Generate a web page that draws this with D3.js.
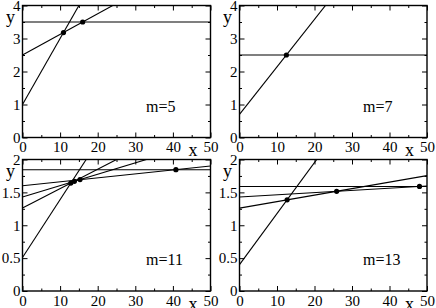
<!DOCTYPE html>
<html>
<head>
<meta charset="utf-8">
<script src="https://cdn.jsdelivr.net/npm/d3@7"></script>
<style>
html,body{margin:0;padding:0;background:#fff;}
svg{display:block;}
</style>
</head>
<body>
<svg id="chart" width="436" height="308"></svg>
<script>
// ---- data ----
const panelLabels = ["m=5", "m=7", "m=11", "m=13"];
const xTickValues = [0, 10, 20, 30, 40, 50];
const xMinorValues = [5, 15, 25, 35, 45];
const yTicksTall = [0, 1, 2, 3, 4];
const yMinorTall = [0.5, 1.5, 2.5, 3.5];
const yTicksShort = [0, 0.5, 1, 1.5, 2];
const yMinorShort = [0.25, 0.75, 1.25, 1.75];

// lines: y = intercept + slope * x
const m5Intercepts = [3.5, 2.5, 1.0];
const m5Slopes = [0, 0.0625, 0.2];
const m5DotX = [10.9, 16.0];
const m5DotY = [3.18, 3.5];

const m7Intercepts = [2.5, 0.7];
const m7Slopes = [0, 0.144];
const m7DotX = [12.5];
const m7DotY = [2.5];

const m11Intercepts = [1.845, 1.60, 1.43, 1.262, 0.51];
const m11Slopes = [0, 0.006, 0.0173, 0.0295, 0.088];
const m11DotX = [12.85, 13.8, 15.3, 40.8];
const m11DotY = [1.641, 1.668, 1.695, 1.845];

const m13Intercepts = [1.59, 1.43, 1.26, 0.40];
const m13Slopes = [0, 0.00333, 0.0099, 0.0777];
const m13DotX = [12.7, 25.9, 48.0];
const m13DotY = [1.386, 1.516, 1.59];

// ---- layout ----
const panels = [
  {label: panelLabels[0], left: 22.5, right: 210.5, top: 5.5, bottom: 137.5, yMax: 4, yT: yTicksTall, yM: yMinorTall, b: m5Intercepts, s: m5Slopes, dx: m5DotX, dy: m5DotY},
  {label: panelLabels[1], left: 239.5, right: 427, top: 5.5, bottom: 137.5, yMax: 4, yT: yTicksTall, yM: yMinorTall, b: m7Intercepts, s: m7Slopes, dx: m7DotX, dy: m7DotY},
  {label: panelLabels[2], left: 22.5, right: 210.5, top: 159.5, bottom: 291, yMax: 2, yT: yTicksShort, yM: yMinorShort, b: m11Intercepts, s: m11Slopes, dx: m11DotX, dy: m11DotY},
  {label: panelLabels[3], left: 239.5, right: 427, top: 159.5, bottom: 291, yMax: 2, yT: yTicksShort, yM: yMinorShort, b: m13Intercepts, s: m13Slopes, dx: m13DotX, dy: m13DotY}
];

const svg = d3.select("#chart");
const font = "Liberation Serif, Times New Roman, serif";
const fmt = d => String(d);

panels.forEach((p, i) => {
  const x = d3.scaleLinear().domain([0, 50]).range([p.left, p.right]);
  const y = d3.scaleLinear().domain([0, p.yMax]).range([p.bottom, p.top]);
  const g = svg.append("g");
  const clipId = "clip" + i;
  svg.append("clipPath").attr("id", clipId).append("rect")
    .attr("x", p.left).attr("y", p.top).attr("width", p.right - p.left).attr("height", p.bottom - p.top);

  // lines
  const lg = g.append("g").attr("clip-path", `url(#${clipId})`);
  p.b.forEach((b, k) => {
    const s = p.s[k];
    lg.append("line")
      .attr("x1", x(0)).attr("y1", y(b))
      .attr("x2", x(50)).attr("y2", y(b + s * 50))
      .attr("stroke", "#000").attr("stroke-width", 1.1);
  });
  // dots
  p.dx.forEach((dxv, k) => {
    g.append("circle").attr("cx", x(dxv)).attr("cy", y(p.dy[k])).attr("r", 2.6).attr("fill", "#000");
  });

  // axes
  const addAxis = (axis, tx, ty, labels) => {
    const a = g.append("g").attr("transform", `translate(${tx},${ty})`).call(axis);
    a.attr("font-family", font).attr("font-size", 15);
    a.select(".domain").remove();
    a.selectAll("line").attr("stroke", "#000").attr("stroke-width", 1);
    a.selectAll("text").attr("fill", "#000");
    if (!labels) a.selectAll("text").remove();
    return a;
  };
  addAxis(d3.axisBottom(x).tickValues(xTickValues).tickSize(-5).tickPadding(4).tickFormat(fmt), 0, p.bottom, true);
  addAxis(d3.axisBottom(x).tickValues(xMinorValues).tickSize(-2.5).tickFormat(""), 0, p.bottom, false);
  addAxis(d3.axisTop(x).tickValues(xTickValues).tickSize(-5).tickFormat(""), 0, p.top, false);
  addAxis(d3.axisTop(x).tickValues(xMinorValues).tickSize(-2.5).tickFormat(""), 0, p.top, false);
  addAxis(d3.axisLeft(y).tickValues(p.yT).tickSize(-5).tickPadding(2).tickFormat(fmt), p.left, 0, true);
  addAxis(d3.axisLeft(y).tickValues(p.yM).tickSize(-2.5).tickFormat(""), p.left, 0, false);
  addAxis(d3.axisRight(y).tickValues(p.yT).tickSize(-5).tickFormat(""), p.right, 0, false);
  addAxis(d3.axisRight(y).tickValues(p.yM).tickSize(-2.5).tickFormat(""), p.right, 0, false);

  // frame
  g.append("rect").attr("x", p.left).attr("y", p.top)
    .attr("width", p.right - p.left).attr("height", p.bottom - p.top)
    .attr("fill", "none").attr("stroke", "#000").attr("stroke-width", 1.4);

  // axis titles
  g.append("text").attr("x", p.left - 16.5).attr("y", p.top + 17.5)
    .attr("font-family", font).attr("font-size", 18).text("y");
  g.append("text").attr("x", p.right - 13).attr("y", p.bottom + 18.5)
    .attr("text-anchor", "end").attr("font-family", font).attr("font-size", 18).text("x");

  // panel label
  g.append("text").attr("x", p.left + 123.5).attr("y", p.bottom - 26)
    .attr("font-family", font).attr("font-size", 16).text(p.label);
});
</script>
</body>
</html>
